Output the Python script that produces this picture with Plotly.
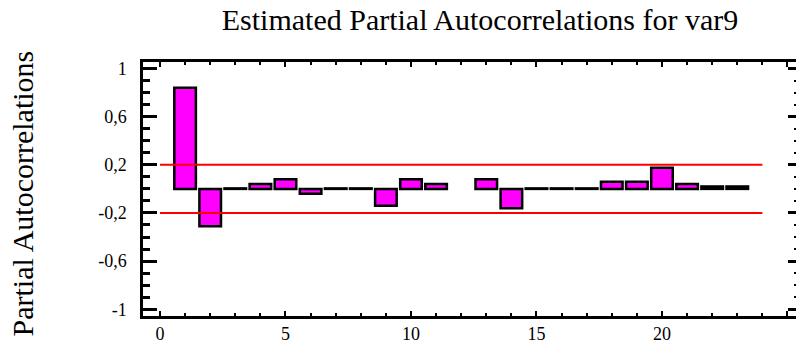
import plotly.graph_objects as go

# ---- data ----
lags = list(range(1, 24))
pacf = [0.84, -0.31, 0.004, 0.04, 0.08, -0.04, 0.004, 0.004, -0.14, 0.08,
        0.04, None, 0.08, -0.16, 0.004, 0.004, 0.004, 0.06, 0.06, 0.175,
        0.04, 0.02, 0.02]
limit_x = [0, 24]
upper_limit = [0.2, 0.2]
lower_limit = [-0.2, -0.2]
x_tickvals = [0, 5, 10, 15, 20, 25]
y_tickvals = [-1, -0.6, -0.2, 0.2, 0.6, 1]
y_ticktext = ["-1", "-0,6", "-0,2", "0,2", "0,6", "1"]

title_text = "Estimated Partial Autocorrelations for var9"
ytitle_text = "Partial Autocorrelations"

FONT = "Liberation Serif, Times New Roman, serif"
W, H = 796, 345
L, R, T, B = 143, 0, 62, 29

xr = [-0.677, 25.34]
yr = [-1.056, 1.054]

fig = go.Figure()
fig.add_trace(go.Bar(
    x=lags, y=pacf, width=0.86,
    marker=dict(color="#FF00FF", line=dict(color="black", width=2.5)),
    hoverinfo="skip", showlegend=False,
))
for lim in (upper_limit, lower_limit):
    fig.add_trace(go.Scatter(
        x=limit_x, y=lim, mode="lines", yaxis="y2",
        line=dict(color="#FF0000", width=2), hoverinfo="skip", showlegend=False,
    ))

fig.update_layout(
    width=W, height=H,
    margin=dict(l=L, r=R, t=T, b=B, autoexpand=False),
    paper_bgcolor="white", plot_bgcolor="white",
    font=dict(family=FONT, color="black"),
    showlegend=False,
    title=dict(text=title_text, xref="container", yref="container",
               x=480 / W, xanchor="center", y=1 - 19 / H, yanchor="middle",
               font=dict(family=FONT, size=30, color="black")),
    xaxis=dict(
        range=xr, tickmode="array", tickvals=x_tickvals,
        ticks="inside", ticklen=5, tickwidth=2, tickcolor="black",
        minor=dict(dtick=1, tick0=0, ticks="inside", ticklen=3, tickwidth=2, tickcolor="black"),
        showline=True, linewidth=2.5, linecolor="black", mirror="ticks",
        showgrid=False, zeroline=False,
        tickfont=dict(family=FONT, size=18, color="black"),
        ticklabelstandoff=0,
    ),
    yaxis=dict(
        range=yr, tickmode="array", tickvals=y_tickvals, ticktext=y_ticktext,
        ticks="inside", ticklen=14, tickwidth=2.5, tickcolor="black",
        minor=dict(dtick=0.1, tick0=0, ticks="inside", ticklen=7, tickwidth=2.5, tickcolor="black"),
        showline=True, linewidth=2.5, linecolor="black", mirror=False,
        showgrid=False, zeroline=False,
        tickfont=dict(family=FONT, size=18, color="black"),
        ticklabelstandoff=10,
    ),
    yaxis2=dict(
        range=yr, overlaying="y", side="right",
        tickmode="array", tickvals=y_tickvals, showticklabels=False,
        ticks="inside", ticklen=8, tickwidth=2.5, tickcolor="black",
        minor=dict(dtick=0.1, tick0=0, ticks="inside", ticklen=2, tickwidth=2, tickcolor="black"),
        showline=False, showgrid=False, zeroline=False,
    ),
    annotations=[dict(
        text=ytitle_text, textangle=-90, showarrow=False,
        xref="paper", yref="paper",
        x=(22 - L) / (W - L - R), y=(H - B - 193.5) / (H - T - B),
        xanchor="center", yanchor="middle",
        font=dict(family=FONT, size=30, color="black"),
    )],
)

fig.write_html("out.html")
